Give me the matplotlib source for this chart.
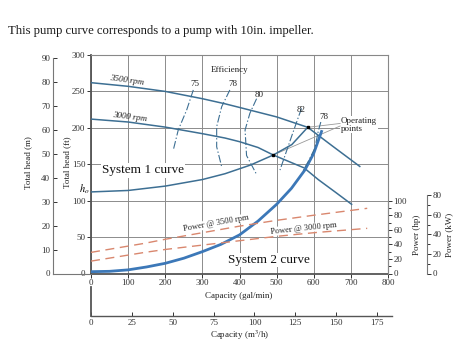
import matplotlib
matplotlib.use('Agg')
import matplotlib.pyplot as plt
from matplotlib.ticker import MultipleLocator

plt.rcParams['font.family'] = ['Liberation Serif', 'DejaVu Serif']
plt.rcParams['mathtext.fontset'] = 'stix'

# pump curves, capacity in gal/min, head in ft
q_3500 = [0, 100, 200, 300, 361, 400, 500, 583.7, 653, 724]
h_3500 = [262, 257, 250, 240, 233, 228, 215, 200.7, 174, 147]
q_3000 = [0, 100, 200, 300, 361, 400, 450, 491, 574, 612, 660, 702]
h_3000 = [212, 208, 201, 192, 186, 181, 173, 162.7, 145, 129, 111, 95]

# system curves
q_sys1 = [0, 100, 200, 300, 361, 430, 491, 541, 583.7]
h_sys1 = [112, 114, 120, 129, 137, 149, 162.7, 177, 200.7]
q_sys2 = [0, 50, 100, 150, 200, 250, 300, 350, 400, 450, 500, 540, 576, 600, 621]
h_sys2 = [2.5, 3, 5, 9, 14, 21, 30, 40, 53, 72, 95, 117, 142, 165, 195]

# efficiency contours
eff_labels = ['75', '78', '80', '82', '78']
eff_q = [[275.6, 257.7, 235, 221.7],
         [374, 352, 338.5, 338.5, 352],
         [446, 428, 415, 419, 446],
         [567, 540, 509],
         [619, 612, 603, 585, 570]]
eff_h = [[252, 224.5, 197, 169.6],
         [252, 229, 201.6, 174, 146.6],
         [240, 220, 197, 162, 136],
         [226.8, 187.8, 142],
         [208, 195, 172, 153.5, 140]]
eff_lab_q = [280, 381.5, 453, 565, 627.5]
eff_lab_h = [260, 260, 245, 224.5, 215]

# power curves (hp)
q_pow = [0, 145, 200, 300, 400, 500, 600, 744]
p_3500 = [29, 41.5, 47, 56, 65, 73, 80, 89.5]
p_3000 = [17, 29, 33, 39, 45, 51, 56, 62]

# operating points
op_q = [583.7, 491]
op_h = [200.7, 162.7]

W, H = 474, 343
def fx(px):
    return px / W
def fy(py):
    return 1 - py / H

pump_col = '#3d6f93'
sys2_col = '#3c78b8'
pow_col = '#d9876e'
grid_col = '#8c8c8c'

fig = plt.figure(figsize=(4.74, 3.43), dpi=100)
ax = fig.add_axes([fx(91), fy(273.5), fx(388) - fx(91), fy(55) - fy(273.5)])
ax.set_xlim(0, 800)
ax.set_ylim(0, 300)
ax.xaxis.set_major_locator(MultipleLocator(100))
ax.yaxis.set_major_locator(MultipleLocator(50))
ax.grid(True, color=grid_col, lw=0.7)
ax.set_axisbelow(True)
ax.tick_params(direction='out', length=3, width=0.7, labelsize=6.5, pad=1,
               colors='#333333')
for s in ['top', 'right']:
    ax.spines[s].set_color('#888888')
    ax.spines[s].set_linewidth(0.8)
for s in ['left', 'bottom']:
    ax.spines[s].set_color('#555555')
    ax.spines[s].set_linewidth(1.3)

ax.plot(q_3500, h_3500, color=pump_col, lw=1.1, zorder=3)
ax.plot(q_3000, h_3000, color=pump_col, lw=1.1, zorder=3)
ax.plot(q_sys1, h_sys1, color=pump_col, lw=1.1, zorder=3)
ax.plot(q_sys2, h_sys2, color=sys2_col, lw=2.0, zorder=3)
for q, h in zip(eff_q, eff_h):
    ax.plot(q, h, color=pump_col, lw=0.8, dashes=(7, 2, 1.2, 2), zorder=3)
for lab, q, h in zip(eff_labels, eff_lab_q, eff_lab_h):
    ax.text(q, h, lab, fontsize=6.5, ha='center', va='center', color='#222222')
ax.text(372, 279, 'Efficiency', fontsize=6.5, ha='center', va='center', color='#222222')

ax.plot(q_pow, p_3500, color=pow_col, lw=1.0, dashes=(6.5, 4), zorder=3)
ax.plot(q_pow, p_3000, color=pow_col, lw=1.0, dashes=(6.5, 4), zorder=3)

# operating points and leader lines
for q, h, yl in zip(op_q, op_h, [206, 202.5]):
    ax.plot([q, 671], [h, yl], color='#999999', lw=0.6, zorder=2.5)
ax.plot(op_q, op_h, 's', color='black', ms=2.0, zorder=4)
ax.text(673, 204, 'Operating\npoints', fontsize=6.5, ha='left', va='center',
        linespacing=0.95, color='#222222', zorder=1.5,
        bbox=dict(facecolor='white', edgecolor='none', pad=0.5))

ax.text(96, 265.6, '3500 rpm', fontsize=6.5, style='italic', rotation=-8,
        ha='center', va='center', color='#222222')
ax.text(105, 214.5, '3000 rpm', fontsize=6.5, style='italic', rotation=-7,
        ha='center', va='center', color='#222222')
ax.text(140, 142, 'System 1 curve', fontsize=9.5, ha='center', va='center',
        color='#111111', zorder=1.5,
        bbox=dict(facecolor='white', edgecolor='none', pad=1))
ax.text(480, 18.5, 'System 2 curve', fontsize=9.5, ha='center', va='center',
        color='#111111', zorder=1.5,
        bbox=dict(facecolor='white', edgecolor='none', pad=1))
ax.text(338, 69, 'Power @ 3500 rpm', fontsize=6, rotation=10, ha='center',
        va='center', color='#222222', zorder=1.5,
        bbox=dict(facecolor='white', edgecolor='none', pad=0.3))
ax.text(572, 62, 'Power @ 3000 rpm', fontsize=6, rotation=6, ha='center',
        va='center', color='#222222', zorder=1.5,
        bbox=dict(facecolor='white', edgecolor='none', pad=0.3))
ax.text(-19, 116, '$h_o$', fontsize=7.5, ha='center', va='center', clip_on=False)

# metre axis
ax_m = fig.add_axes([fx(53), fy(273.5), fx(91) - fx(53), fy(55) - fy(273.5)])
ax_m.set_ylim(0, 300 * 0.3048)
ax_m.patch.set_visible(False)
ax_m.set_xticks([])
ax_m.yaxis.set_major_locator(MultipleLocator(10))
ax_m.tick_params(direction='in', length=3, width=0.7, labelsize=6.5, pad=2,
                 colors='#333333')
for s in ['top', 'right']:
    ax_m.spines[s].set_visible(False)
for s in ['left', 'bottom']:
    ax_m.spines[s].set_color('#777777')
    ax_m.spines[s].set_linewidth(0.8)
ax_m.spines['left'].set_bounds(0, 90)

# power axes
ax_hp = ax.twinx()
ax_hp.set_ylim(0, 300)
ax_hp.set_yticks(range(0, 101, 20))
ax_hp.set_yticks(range(0, 101, 10), minor=True)
ax_hp.tick_params(which='both', direction='out', width=0.7, labelsize=6.5,
                  pad=1, colors='#333333')
ax_hp.tick_params(which='major', length=3)
ax_hp.tick_params(which='minor', length=2)
for s in ['top', 'left', 'bottom']:
    ax_hp.spines[s].set_visible(False)
ax_hp.spines['right'].set_bounds(0, 100)
ax_hp.spines['right'].set_color('#888888')

ax_kw = ax.twinx()
ax_kw.set_ylim(0, 300 * 0.7457)
ax_kw.spines['right'].set_position(('axes', (427 - 91) / 297))
ax_kw.set_yticks(range(0, 81, 20))
ax_kw.set_yticks(range(0, 81, 10), minor=True)
ax_kw.tick_params(which='both', direction='out', width=0.7, labelsize=6.5,
                  pad=1, colors='#333333')
ax_kw.tick_params(which='major', length=3)
ax_kw.tick_params(which='minor', length=2)
for s in ['top', 'left', 'bottom']:
    ax_kw.spines[s].set_visible(False)
ax_kw.spines['right'].set_bounds(0, 80)
ax_kw.spines['right'].set_color('#777777')

# m3/h capacity axis
ax_q = fig.add_axes([fx(91), fy(316), fx(392) - fx(91), fy(287) - fy(316)])
ax_q.set_xlim(0, (392 - 91) / 297 * 800 / 4.40287)
ax_q.patch.set_visible(False)
ax_q.set_yticks([])
ax_q.xaxis.set_major_locator(MultipleLocator(25))
ax_q.tick_params(direction='in', length=3, width=0.7, labelsize=6.5, pad=2,
                 colors='#333333')
for s in ['top', 'right']:
    ax_q.spines[s].set_visible(False)
ax_q.spines['bottom'].set_color('#555555')
ax_q.spines['left'].set_color('#555555')
ax_q.spines['bottom'].set_linewidth(1.0)
ax_q.spines['left'].set_linewidth(1.3)

# axis titles
lab = dict(fontsize=6.5, ha='center', va='center', color='#222222')
fig.text(fx(239), fy(296), 'Capacity (gal/min)', **lab)
fig.text(fx(240), fy(335), 'Capacity (m$^3$/h)', **lab)
fig.text(fx(67), fy(162), 'Total head (ft)', rotation=90, **lab)
fig.text(fx(28), fy(163), 'Total head (m)', rotation=90, **lab)
fig.text(fx(417), fy(235), 'Power (hp)', rotation=90, **lab)
fig.text(fx(449), fy(235), 'Power (kW)', rotation=90, **lab)

fig.text(fx(8), fy(31), 'This pump curve corresponds to a pump with 10in. impeller.',
         fontsize=9.1, ha='left', va='center', color='#1a1a1a')

fig.savefig('out.png', dpi=100)
